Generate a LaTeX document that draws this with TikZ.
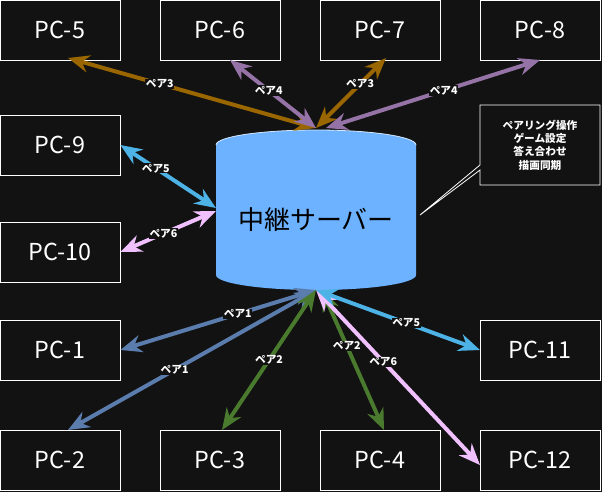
\documentclass[tikz,border=0pt]{standalone}
\usepackage{fontspec}
\setmainfont{Noto Sans CJK JP}
\usetikzlibrary{arrows.meta,shapes.geometric}
\definecolor{bg}{HTML}{121212}
\definecolor{cA}{HTML}{5B7DAE}
\definecolor{cB}{HTML}{4A7A2E}
\definecolor{cC}{HTML}{996600}
\definecolor{cD}{HTML}{9673A6}
\definecolor{cE}{HTML}{4DB3E6}
\definecolor{cF}{HTML}{F0C0FF}
\definecolor{cyl}{HTML}{6DB2FF}
\begin{document}
\begin{tikzpicture}[x=0.75pt,y=-0.75pt,
 pc/.style={draw=white,fill=bg,text=white,minimum width=90pt,minimum height=45pt,font=\fontsize{17.5}{19}\selectfont,inner sep=0pt,line width=0.6pt},
 ar/.style={line width=3pt,{Stealth[length=16pt,width=13pt]}-{Stealth[length=16pt,width=13pt]}},
 lb/.style={fill=bg,text=white,font=\bfseries\fontsize{8}{8}\selectfont,inner sep=0.5pt}]
\fill[bg] (0,0) rectangle (602,492);
\useasboundingbox (0,0) rectangle (602,492);
\node[pc] (p5) at (60,30) {PC-5};
\node[pc] (p6) at (220,30) {PC-6};
\node[pc] (p7) at (380,30) {PC-7};
\node[pc] (p8) at (540,30) {PC-8};
\node[pc] (p9) at (60,145) {PC-9};
\node[pc] (p10) at (60,252) {PC-10};
\node[pc] (p1) at (60,350) {PC-1};
\node[pc] (p2) at (60,460) {PC-2};
\node[pc] (p3) at (220,460) {PC-3};
\node[pc] (p4) at (380,460) {PC-4};
\node[pc] (p11) at (540,350) {PC-11};
\node[pc] (p12) at (540,460) {PC-12};
% cylinder
\fill[cyl] (216,145) -- (216,275) arc[start angle=180,end angle=0,x radius=100,y radius=15] -- (416,145) -- cycle;
\fill[cyl] (316,145) ellipse[x radius=100,y radius=15];
\draw[white!70!cyl,line width=0.6pt] (216,145) arc[start angle=180,end angle=360,x radius=100,y radius=15];
\node[font=\fontsize{19.5}{20}\selectfont,text=black] (srv) at (316,220) {中継サーバー};
\coordinate (top) at (316,128);
\coordinate (top2) at (326,128);
\coordinate (bot) at (316,290);
\coordinate (bot2) at (322,290);
\coordinate (l1) at (216,208);
\coordinate (l2) at (216,211);
% callout
\draw[white,fill=bg,line width=0.6pt] (480,105) -- (600,105) -- (600,185) -- (480,185) -- (480,170) -- (420,215) -- (480,165) -- cycle;
\node[text=white,font=\bfseries\fontsize{8}{10}\selectfont,align=center] (note) at (540,145) {ペアリング操作\\ゲーム設定\\答え合わせ\\描画同期};
% arrows
\draw[ar,cC] (68,58) -- (top) node[lb,pos=0.37] {ペア3};
\draw[ar,cD] (230,60) -- (top) node[lb,pos=0.45] {ペア4};
\draw[ar,cC] (386,58) -- (top) node[lb,pos=0.37] {ペア3};
\draw[ar,cD] (540,60) -- (top2) node[lb,pos=0.45] {ペア4};
\draw[ar,cE] (p9.east) -- (l1) node[lb,pos=0.37] {ペア5};
\draw[ar,cF] (p10.east) -- (l2) node[lb,pos=0.45] {ペア6};
\draw[ar,cA] (p1.east) -- (bot) node[lb,pos=0.6] {ペア1};
\draw[ar,cA] (68,430) -- (bot) node[lb,pos=0.43] {ペア1};
\draw[ar,cB] (222,430) -- (bot) node[lb,pos=0.5] {ペア2};
\draw[ar,cB] (384,430) -- (bot2) node[lb,pos=0.6] {ペア2};
\draw[ar,cF] (480,465) -- (bot) node[lb,pos=0.59] {ペア6};
\draw[ar,cE] (480,350) -- (bot) node[lb,pos=0.45] {ペア5};
\end{tikzpicture}
\end{document}
